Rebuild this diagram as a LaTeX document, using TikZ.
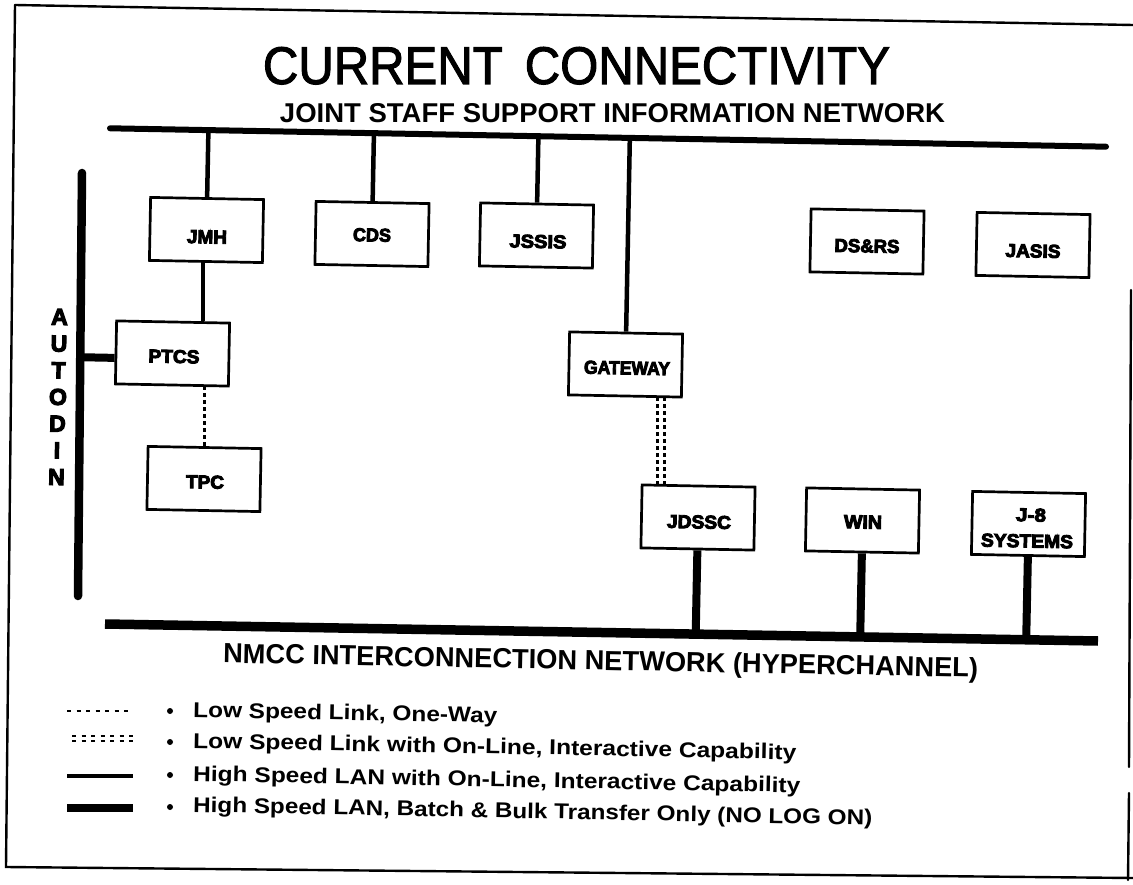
\documentclass[tikz,border=0pt]{standalone}
\usepackage{fontspec}
\setmainfont{Liberation Sans}
\newfontfamily\heavyfont{Liberation Sans}[BoldFeatures={FakeBold=5}]
\newfontfamily\titlefont{Liberation Sans}[BoldFont={*}, BoldFeatures={FakeBold=2}]
\usepackage{graphicx}
\usetikzlibrary{calc}
\newcommand{\fitt}[3]{\resizebox{#1pt}{#2pt}{#3}}
\begin{document}
\begin{tikzpicture}[x=1pt,y=-1pt,
  sysbox/.style={draw, line width=2.7pt, inner sep=0pt, minimum width=113pt, minimum height=63pt, rotate=-1.1},
  lbl/.style={inner sep=0pt, rotate=-1.1, font=\bfseries},
  boxlbl/.style={inner sep=0pt, rotate=-1.1, font=\heavyfont\bfseries},
  ttl/.style={inner sep=0pt},
  lan/.style={line width=4.5pt},
  bulk/.style={line width=8pt},
  lowlink/.style={line width=2.3pt, dash pattern=on 4pt off 3pt},
  legdot/.style={line width=2pt, dash pattern=on 4pt off 5.5pt},
  frameline/.style={line width=2.4pt, line cap=round}]
\useasboundingbox (0,0) rectangle (1133,885);

% frame
\draw[frameline] (15,5) -- (1133,25);
\draw[frameline] (15,5) -- (6,867) -- (1133,878);
\draw[frameline] (1131,290) -- (1129,767);
\draw[frameline] (1129,793) -- (1128,880);

% titles
\node[ttl, anchor=base, font=\titlefont\bfseries] (title) at (576.5,84) {\fitt{627}{37}{CURRENT\hspace{0.45em}CONNECTIVITY}};
\node[ttl, anchor=base, font=\bfseries] (subtitle) at (612.5,123) {\fitt{665}{19}{JOINT STAFF SUPPORT INFORMATION NETWORK}};
\node[lbl, anchor=base] (nmcc) at (600.5,670) {\fitt{755}{20}{NMCC INTERCONNECTION NETWORK (HYPERCHANNEL)}};

% buses
\coordinate (jL) at (110,128.3);
\coordinate (jR) at (1106,146.7);
\draw[line width=6pt, line cap=round] (jL) -- (jR);
\coordinate (nL) at (105,624);
\coordinate (nR) at (1098,641);
\draw[line width=9.5pt] (nL) -- (nR);
\coordinate (aT) at (82,173);
\coordinate (aB) at (78,596);
\draw[line width=8.5pt, line cap=round] (aT) -- (aB);
\node[boxlbl, align=center, font=\heavyfont\bfseries\fontsize{23}{26.7}\selectfont] (autodin) at (58,397) {A\\U\\T\\O\\D\\I\\N};

% boxes
\node[sysbox] (jmh) at (206.5,230) {};
\node[sysbox] (cds) at (372,234) {};
\node[sysbox] (jssis) at (536.5,235.5) {};
\node[sysbox] (dsrs) at (867,241.5) {};
\node[sysbox] (jasis) at (1033,245) {};
\node[sysbox] (ptcs) at (172.5,353.5) {};
\node[sysbox] (tpc) at (204,479) {};
\node[sysbox] (gw) at (625.5,364.5) {};
\node[sysbox] (jdssc) at (698,517.5) {};
\node[sysbox] (win) at (862.5,520.5) {};
\node[sysbox] (j8) at (1028.5,524) {};

% box labels
\node[boxlbl] (jmht) at (207,237) {\fitt{40}{13}{JMH}};
\node[boxlbl] (cdst) at (372,235) {\fitt{38}{13}{CDS}};
\node[boxlbl] (jssist) at (538,241.5) {\fitt{57}{13}{JSSIS}};
\node[boxlbl] (dsrst) at (867,246) {\fitt{65}{13}{DS\&RS}};
\node[boxlbl] (jasist) at (1033,251) {\fitt{55}{13}{JASIS}};
\node[boxlbl] (ptcst) at (174,356.5) {\fitt{51}{13}{PTCS}};
\node[boxlbl] (tpct) at (205,482) {\fitt{38}{13}{TPC}};
\node[boxlbl] (gwt) at (627,368) {\fitt{86}{13}{GATEWAY}};
\node[boxlbl] (jdssct) at (699,522) {\fitt{64}{13}{JDSSC}};
\node[boxlbl] (wint) at (863,522) {\fitt{38}{13}{WIN}};
\node[boxlbl] (j8ta) at (1031,515) {\fitt{30}{13}{J-8}};
\node[boxlbl] (j8tb) at (1027,541) {\fitt{92}{13}{SYSTEMS}};

% top LAN drops
\draw[lan] (intersection of jL--jR and jmh.north--jmh.south) -- (jmh.north);
\draw[lan] (intersection of jL--jR and cds.north--cds.south) -- (cds.north);
\draw[lan] (intersection of jL--jR and jssis.north--jssis.south) -- (jssis.north);
\draw[lan] (intersection of jL--jR and gw.north--gw.south) -- (gw.north);
\draw[lan] ([xshift=-3pt]jmh.south) -- ([xshift=-3pt]jmh.south |- ptcs.north);

% AUTODIN link
\coordinate (pw) at ([yshift=-5.5pt]ptcs.west);
\coordinate (pe) at ([yshift=-5.5pt]ptcs.east);
\draw[bulk] (pw) -- (intersection of aT--aB and pw--pe);

% low speed links
\draw[lowlink] (tpc.north |- ptcs.south) -- (tpc.north);
\coordinate (g1) at ($(gw.south)+(32.5,0)$);
\coordinate (g2) at ($(gw.south)+(39.5,0)$);
\draw[lowlink] (g1) -- (g1 |- jdssc.north);
\draw[lowlink] (g2) -- (g2 |- jdssc.north);

% bottom bulk drops
\draw[bulk] (jdssc.south) -- (intersection of nL--nR and jdssc.north--jdssc.south);
\draw[bulk] (win.south) -- (intersection of nL--nR and win.north--win.south);
\draw[bulk] (j8.south) -- (intersection of nL--nR and j8.north--j8.south);

% legend samples
\draw[legdot] (67,711) -- (133,711);
\draw[legdot] (72,736) -- (133,736);
\draw[legdot] (72,741) -- (133,741);
\draw[line width=4.5pt] (67,776) -- (133,776);
\draw[line width=8pt] (67,808) -- (133,808);
\fill (170,711) circle[radius=3pt];
\fill (170,742) circle[radius=3pt];
\fill (170,775) circle[radius=3pt];
\fill (170,807) circle[radius=3pt];
\node[lbl, anchor=base west] (leg1) at (193,717) {\fitt{304}{15.5}{Low Speed Link, One-Way}};
\node[lbl, anchor=base west] (leg2) at (193,748) {\fitt{603}{15.5}{Low Speed Link with On-Line, Interactive Capability}};
\node[lbl, anchor=base west] (leg3) at (193,781) {\fitt{607}{15.5}{High Speed LAN with On-Line, Interactive Capability}};
\node[lbl, anchor=base west] (leg4) at (193,812) {\fitt{679}{15.5}{High Speed LAN, Batch \& Bulk Transfer Only (NO LOG ON)}};
\end{tikzpicture}
\end{document}
